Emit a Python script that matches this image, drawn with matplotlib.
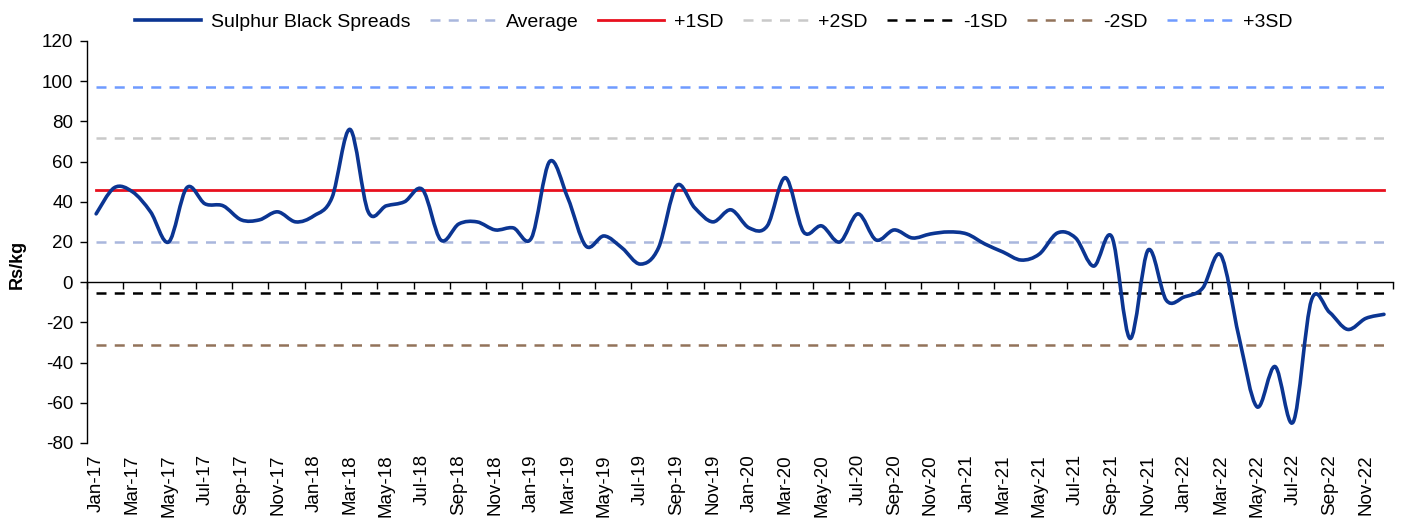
import matplotlib
matplotlib.use("Agg")
import matplotlib.pyplot as plt
from matplotlib.path import Path
from matplotlib.patches import PathPatch
from matplotlib.lines import Line2D
import numpy as np

plt.rcParams['font.family'] = ['Liberation Sans', 'DejaVu Sans']
plt.rcParams['axes.unicode_minus'] = False

months = ['Jan', 'Feb', 'Mar', 'Apr', 'May', 'Jun', 'Jul', 'Aug', 'Sep', 'Oct', 'Nov', 'Dec']
years = ['17', '18', '19', '20', '21', '22']
dates = [m + '-' + y for y in years for m in months]

spreads = [34, 47, 45, 35, 20, 47, 39, 38, 31, 31, 35, 30,
           33, 42, 76, 35, 38, 40, 46, 21, 29, 30, 26, 27,
           22, 60, 42, 18, 23, 17, 9, 17, 48, 37, 30, 36,
           27, 28, 52, 25, 28, 20, 34, 21, 26, 22, 24, 25,
           24, 19, 15, 11, 14, 24.5, 22, 8, 22.5, -28, 16, -9,
           -7.3, -3, 13.5, -27, -62, -42, -69.5, -9, -15, -23.5, -18, -16]

average = 20.1
sd = 25.7

bands = [
    ('Average', average, '#A9B7DD', '--'),
    ('+1SD', average + sd, '#E8101E', '-'),
    ('+2SD', average + 2 * sd, '#C9C9C9', '--'),
    ('-1SD', average - sd, '#000000', '--'),
    ('-2SD', average - 2 * sd, '#92735A', '--'),
    ('+3SD', average + 3 * sd, '#6F9BFF', '--'),
]
line_color = '#0B3592'

fig = plt.figure(figsize=(14.02, 5.24), dpi=100)
ax = fig.add_axes([0.0621, 0.1546, 0.9315, 0.7672])

x = np.arange(len(spreads))
y = np.array(spreads, dtype=float)

# Excel style smoothed line (Catmull-Rom as cubic bezier)
pts = np.column_stack([x, y])
ext = np.vstack([pts[0], pts, pts[-1]])
verts = [tuple(pts[0])]
codes = [Path.MOVETO]
for i in range(len(pts) - 1):
    p0, p1, p2, p3 = ext[i], ext[i + 1], ext[i + 2], ext[i + 3]
    c1 = p1 + (p2 - p0) / 6.0
    c2 = p2 - (p3 - p1) / 6.0
    verts += [tuple(c1), tuple(c2), tuple(p2)]
    codes += [Path.CURVE4] * 3

handles = []
handles.append(Line2D([], [], color=line_color, lw=2.6, label='Sulphur Black Spreads'))
for name, val, col, ls in bands:
    if ls == '--':
        ln, = ax.plot(x, np.full(len(x), val), color=col, lw=1.8, dashes=(4, 3.3), label=name, zorder=2)
    else:
        ln, = ax.plot(x, np.full(len(x), val), color=col, lw=2.0, label=name, zorder=2)
    handles.append(ln)

ax.add_patch(PathPatch(Path(verts, codes), facecolor='none', edgecolor=line_color, lw=2.6, zorder=3,
                       capstyle='round', joinstyle='round'))

ax.set_xlim(-0.5, len(x) - 0.5)
ax.set_ylim(-80, 120)
ax.set_yticks(np.arange(-80, 121, 20))
ax.tick_params(axis='y', direction='out', length=5, width=1, labelsize=13.5, pad=5)

for s in ['top', 'right']:
    ax.spines[s].set_visible(False)
ax.spines['left'].set_linewidth(1)
ax.spines['bottom'].set_position(('data', 0))
ax.spines['bottom'].set_linewidth(1)
ax.set_xticks(np.arange(-0.5, len(x), 2))
ax.set_xticklabels([])
ax.tick_params(axis='x', direction='out', length=5, width=1)

sec = ax.secondary_xaxis('bottom')
sec.spines['bottom'].set_visible(False)
sec.set_xticks(x[::2])
sec.set_xticklabels(dates[::2], rotation=90, fontsize=13.5)
sec.tick_params(axis='x', length=0, pad=8)

fig.text(0.012, 0.495, 'Rs/kg', rotation=90, fontsize=13, fontweight='bold', ha='center', va='center')

fig.legend(handles=handles, loc='center', bbox_to_anchor=(0.509, 1 - 22 / 524), ncol=7, frameon=False,
           fontsize=14, handlelength=3.4, columnspacing=1.0, handletextpad=0.5, borderpad=0)

fig.savefig('out.png', dpi=100)
